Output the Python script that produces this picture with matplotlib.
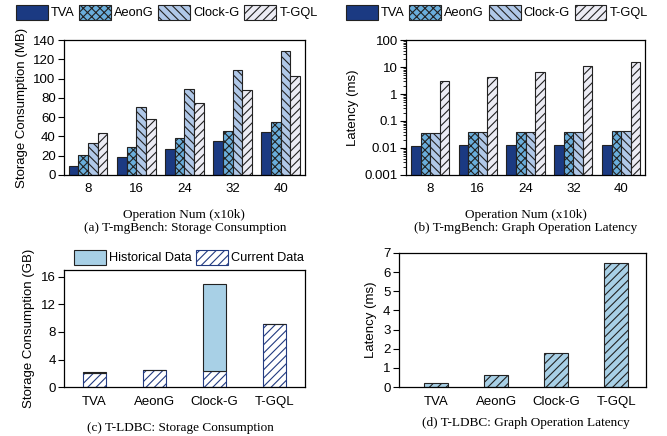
import matplotlib.pyplot as plt
import matplotlib as mpl
import numpy as np

mpl.rcParams['font.family'] = ['Liberation Sans', 'DejaVu Sans']
mpl.rcParams['hatch.linewidth'] = 0.8
mpl.rcParams['font.size'] = 9.5

ops = ["8", "16", "24", "32", "40"]
systems = ["TVA", "AeonG", "Clock-G", "T-GQL"]

# (a) storage in MB
storage_mb = {
    "TVA": [9, 19, 27, 35, 45],
    "AeonG": [21, 29, 38, 46, 55],
    "Clock-G": [33, 70, 89, 109, 129],
    "T-GQL": [43, 58, 75, 88, 103],
}
# (b) latency in ms
latency_ms = {
    "TVA": [0.012, 0.013, 0.013, 0.013, 0.013],
    "AeonG": [0.037, 0.038, 0.038, 0.040, 0.041],
    "Clock-G": [0.037, 0.038, 0.039, 0.040, 0.041],
    "T-GQL": [3.0, 4.4, 6.8, 11.2, 16.0],
}
# (c) T-LDBC storage in GB
current_gb = [2.1, 2.45, 2.4, 9.1]
historical_gb = [0.1, 0.1, 12.5, 0.1]
# (d) T-LDBC latency in ms
ldbc_latency = [0.22, 0.65, 1.8, 6.45]

colors = {"TVA": "#1b3a82", "AeonG": "#6aaedb", "Clock-G": "#b0c8e8", "T-GQL": "#ececf4"}
hatches = {"TVA": "", "AeonG": "xxxx", "Clock-G": "\\\\\\\\", "T-GQL": "////"}
edge = "#222222"
leg_kw = dict(frameon=False, handlelength=2.5, handleheight=1.45, handletextpad=0.25,
              columnspacing=0.35, fontsize=9.2)

fig = plt.figure(figsize=(6.67, 4.36), dpi=100)
ax_a = fig.add_axes([0.096, 0.599, 0.361, 0.309])
ax_b = fig.add_axes([0.609, 0.599, 0.358, 0.309])
ax_c = fig.add_axes([0.096, 0.112, 0.361, 0.269])
ax_d = fig.add_axes([0.598, 0.112, 0.371, 0.308])

x = np.arange(len(ops))
w = 0.2
for ax, data in [(ax_a, storage_mb), (ax_b, latency_ms)]:
    for i, s in enumerate(systems):
        ax.bar(x + (i - 1.5) * w, data[s], w, color=colors[s], hatch=hatches[s],
               edgecolor=edge, linewidth=0.8, label=s)
    ax.set_xticks(x)
    ax.set_xticklabels(ops)
    ax.set_xlim(-0.5, 4.5)
    ax.set_xlabel("Operation Num (x10k)", family="Liberation Serif", fontsize=9.5, labelpad=10)

ax_a.set_ylim(0, 140)
ax_a.set_yticks(range(0, 141, 20))
ax_a.set_ylabel("Storage Consumption (MB)")
ax_b.set_yscale("log")
ax_b.set_ylim(0.001, 100)
ax_b.set_yticks([0.001, 0.01, 0.1, 1, 10, 100])
ax_b.set_yticklabels(["0.001", "0.01", "0.1", "1", "10", "100"])
ax_b.tick_params(axis="y", which="minor", length=2, width=0.6)
ax_b.set_ylabel("Latency (ms)")

for ax, xc in [(ax_a, 0.25), (ax_b, 0.745)]:
    h, l = ax.get_legend_handles_labels()
    fig.legend(h, l, loc="center", bbox_to_anchor=(xc, 0.972), ncol=4, **leg_kw)

# (c)
xc = np.arange(len(systems))
ax_c.bar(xc, current_gb, 0.38, color="white", hatch="////", edgecolor=edge,
         linewidth=0.8, label="Current Data")
ax_c.bar(xc, historical_gb, 0.38, bottom=current_gb, color="#a8d0e6", edgecolor=edge,
         linewidth=0.8, label="Historical Data")
for p in ax_c.patches[:4]:
    p.set_edgecolor("#223a80")
ax_c.set_xticks(xc)
ax_c.set_xticklabels(systems)
ax_c.set_xlim(-0.5, 3.5)
ax_c.set_ylim(0, 17)
ax_c.set_yticks([0, 4, 8, 12, 16])
ax_c.set_ylabel("Storage Consumption (GB)")
h, l = ax_c.get_legend_handles_labels()
ax_c.legend(h[::-1], l[::-1], loc="lower center", bbox_to_anchor=(0.52, 1.0), ncol=2,
            borderaxespad=0, **leg_kw)

# (d)
ax_d.bar(xc, ldbc_latency, 0.4, color="#a8d0e6", hatch="////", edgecolor=edge, linewidth=0.8)
ax_d.set_xticks(xc)
ax_d.set_xticklabels(systems)
ax_d.set_xlim(-0.62, 3.5)
ax_d.set_ylim(0, 7)
ax_d.set_yticks(range(0, 8))
ax_d.set_ylabel("Latency (ms)")

for ax in [ax_a, ax_b, ax_c, ax_d]:
    ax.tick_params(axis="y", length=4, width=0.8, pad=2)
    ax.tick_params(axis="x", length=0, pad=6)
    for sp in ax.spines.values():
        sp.set_linewidth(0.9)

cap = dict(family="Liberation Serif", fontsize=9.5, ha="center", va="center")
fig.text(0.277, 1 - 228 / 436, "(a) T-mgBench: Storage Consumption", **cap)
fig.text(0.788, 1 - 228 / 436, "(b) T-mgBench: Graph Operation Latency", **cap)
fig.text(0.27, 1 - 428 / 436, "(c) T-LDBC: Storage Consumption", **cap)
fig.text(0.788, 1 - 423 / 436, "(d) T-LDBC: Graph Operation Latency", **cap)

fig.savefig("out.png", dpi=100)
